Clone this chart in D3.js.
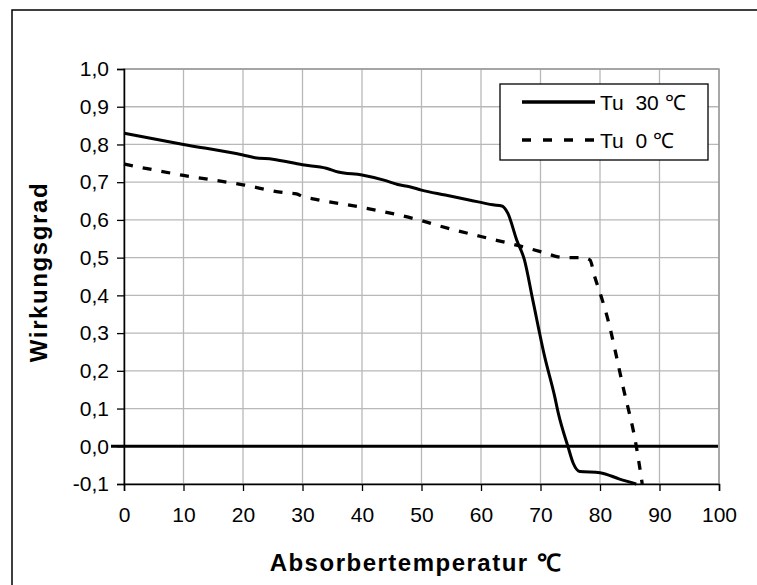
<!DOCTYPE html>
<html>
<head>
<meta charset="utf-8">
<script src="https://cdn.jsdelivr.net/npm/d3@7"></script>
<style>
  html, body { margin: 0; padding: 0; background: #fff; overflow: hidden; }
  svg { display: block; }
  text { font-family: "Liberation Sans", Arial, sans-serif; }
</style>
</head>
<body>
<svg id="chart"></svg>
<script>
// Tu 30 °C
let tempsHot = [0, 10, 20, 22, 25, 30, 34, 36, 40, 44, 46, 48, 50, 54, 58, 62, 63.5, 64.5, 66, 67.3, 68.7, 70.7, 72.4, 73, 74.6, 75.5, 76.6, 80, 83.3, 86.1];
let effHot = [0.83, 0.80, 0.772, 0.765, 0.761, 0.746, 0.737, 0.727, 0.719, 0.704, 0.694, 0.688, 0.679, 0.666, 0.653, 0.64, 0.637, 0.618, 0.547, 0.494, 0.388, 0.2375, 0.131, 0.087, 0.0, -0.045, -0.067, -0.07, -0.087, -0.1];
// Tu 0 °C
let tempsCold = [0, 10, 20, 27, 29, 30, 32, 40, 50, 53, 60, 66.5, 70, 74, 77, 78.3, 79.1, 80.2, 81, 84, 86.1, 87.1];
let effCold = [0.748, 0.718, 0.693, 0.672, 0.669, 0.662, 0.655, 0.633, 0.598, 0.584, 0.556, 0.531, 0.516, 0.5, 0.5, 0.494, 0.45, 0.397, 0.355, 0.149, 0.0, -0.1];

let seriesNames = ["Tu  30 \u2103", "Tu  0 \u2103"];
let xTicks = [0, 10, 20, 30, 40, 50, 60, 70, 80, 90, 100];
let yTicks = [-0.1, 0, 0.1, 0.2, 0.3, 0.4, 0.5, 0.6, 0.7, 0.8, 0.9, 1.0];

let svgWidth = 757, svgHeight = 585;
let margin = {top: 69, right: 38, bottom: 101, left: 124};
let width = svgWidth - margin.left - margin.right,
    height = svgHeight - margin.top - margin.bottom;

let x = d3.scaleLinear().domain([0, 100]).range([0, width]),
    y = d3.scaleLinear().domain([-0.1, 1.0]).range([height, 0]);

let svg = d3.select("#chart")
    .attr("width", svgWidth)
    .attr("height", svgHeight);

// outer chart frame: only left and top edges are inside the picture
svg.append("path")
    .attr("d", "M12,585V10H757")
    .attr("fill", "none")
    .attr("stroke", "#000")
    .attr("stroke-width", 1.5);

let g = svg.append("g")
    .attr("transform", "translate(" + margin.left + "," + margin.top + ")");

// gridlines
g.selectAll(".hgrid").data(yTicks).enter().append("line")
    .attr("x1", 0).attr("x2", width)
    .attr("y1", d => y(d)).attr("y2", d => y(d))
    .attr("stroke", "#b8b8b8").attr("stroke-width", 1.3);

g.selectAll(".vgrid").data(xTicks).enter().append("line")
    .attr("x1", d => x(d)).attr("x2", d => x(d))
    .attr("y1", 0).attr("y2", height)
    .attr("stroke", "#b8b8b8").attr("stroke-width", 1.3);

// plot border (gray top & right)
g.append("rect")
    .attr("x", 0).attr("y", 0)
    .attr("width", width).attr("height", height)
    .attr("fill", "none")
    .attr("stroke", "#999").attr("stroke-width", 1.5);

// axes
let yAxis = d3.axisLeft(y)
    .tickValues(yTicks)
    .tickSize(7)
    .tickPadding(8)
    .tickFormat(d => d3.format(".1f")(d).replace(".", ",").replace("\u2212", "-"));

let xAxis = d3.axisBottom(x)
    .tickValues(xTicks)
    .tickSize(7)
    .tickPadding(16)
    .tickFormat(d3.format("d"));

let gy = g.append("g").call(yAxis);
let gx = g.append("g").attr("transform", "translate(0," + height + ")").call(xAxis);

[gx, gy].forEach(a => {
    a.select(".domain").attr("stroke", "#000").attr("stroke-width", 1.5);
    a.selectAll(".tick line").attr("stroke", "#000").attr("stroke-width", 1.3);
    a.selectAll("text")
        .attr("font-family", "Liberation Sans, Arial, sans-serif")
        .attr("font-size", "21px")
        .attr("fill", "#000");
});

// zero line
g.append("line")
    .attr("x1", -13).attr("x2", width - 1)
    .attr("y1", y(0)).attr("y2", y(0))
    .attr("stroke", "#000").attr("stroke-width", 3);

// series
let line = d3.line()
    .x(d => x(d[0]))
    .y(d => y(d[1]))
    .curve(d3.curveMonotoneX);

g.append("path")
    .datum(d3.zip(tempsHot, effHot))
    .attr("d", line)
    .attr("fill", "none")
    .attr("stroke", "#000")
    .attr("stroke-width", 3)
    .attr("stroke-linejoin", "round");

g.append("path")
    .datum(d3.zip(tempsCold, effCold))
    .attr("d", line)
    .attr("fill", "none")
    .attr("stroke", "#000")
    .attr("stroke-width", 3.3)
    .attr("stroke-dasharray", "9,10");

// legend
let legend = svg.append("g").attr("transform", "translate(500,84)");
legend.append("rect")
    .attr("x", 0).attr("y", 0)
    .attr("width", 208).attr("height", 76)
    .attr("fill", "#fff")
    .attr("stroke", "#000").attr("stroke-width", 1.3);

let items = legend.selectAll(".item").data(seriesNames).enter().append("g")
    .attr("transform", (d, i) => "translate(0," + (18 + i * 38) + ")");

items.append("line")
    .attr("x1", 22).attr("x2", 95)
    .attr("y1", 0).attr("y2", 0)
    .attr("stroke", "#000").attr("stroke-width", 3.3)
    .attr("stroke-dasharray", (d, i) => i === 0 ? null : "9,12");

items.append("text")
    .text(d => d)
    .attr("x", 100)
    .attr("y", 8)
    .attr("font-size", "21px")
    .attr("fill", "#000")
    .style("white-space", "pre");

// axis titles
svg.append("text")
    .text("Absorbertemperatur \u2103")
    .attr("x", 416)
    .attr("y", 571)
    .attr("text-anchor", "middle")
    .attr("font-size", "24px")
    .attr("font-weight", "bold")
    .attr("letter-spacing", "1.5px");

svg.append("text")
    .text("Wirkungsgrad")
    .attr("transform", "translate(47,272) rotate(-90)")
    .attr("text-anchor", "middle")
    .attr("font-size", "24px")
    .attr("font-weight", "bold")
    .attr("letter-spacing", "1.6px");
</script>
</body>
</html>
